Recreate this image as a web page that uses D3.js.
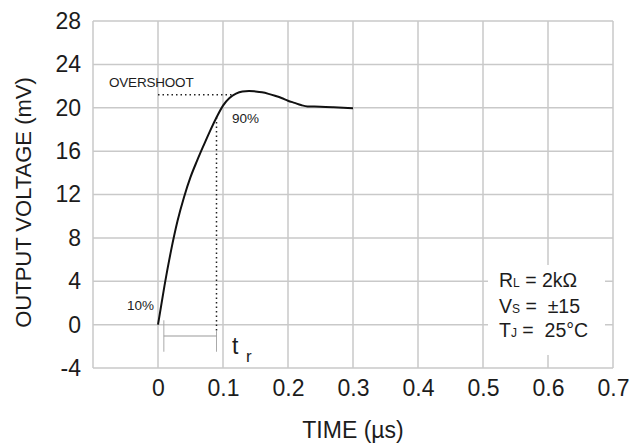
<!DOCTYPE html>
<html>
<head>
<meta charset="utf-8">
<script src="https://cdn.jsdelivr.net/npm/d3@7/dist/d3.min.js"></script>
<style>
  html, body { margin: 0; padding: 0; background: #fff; }
  svg { display: block; font-family: "Liberation Sans", Arial, sans-serif; }
</style>
</head>
<body>
<svg id="chart" width="632" height="448"></svg>
<script>
// Step response of the output stage: time in µs, output in mV
const timeUs = [0, 0.01, 0.02, 0.03, 0.04, 0.05, 0.06, 0.07, 0.08, 0.09, 0.10, 0.11, 0.12, 0.13, 0.14, 0.15, 0.16, 0.17, 0.18, 0.19, 0.20, 0.21, 0.22, 0.23, 0.25, 0.27, 0.30];
const outputMv = [0, 3.6, 6.8, 9.55, 11.75, 13.6, 15.1, 16.5, 17.85, 19.1, 20.2, 20.9, 21.3, 21.5, 21.55, 21.5, 21.42, 21.28, 21.1, 20.9, 20.65, 20.45, 20.25, 20.12, 20.1, 20.05, 19.95];

const xTicks = [0, 0.1, 0.2, 0.3, 0.4, 0.5, 0.6, 0.7];
const xTickLabels = ["0", "0.1", "0.2", "0.3", "0.4", "0.5", "0.6", "0.7"];
const xGrid = [-0.1, 0, 0.1, 0.2, 0.3, 0.4, 0.5, 0.6, 0.7];
const yTicks = [-4, 0, 4, 8, 12, 16, 20, 24, 28];
const yTickLabels = ["-4", "0", "4", "8", "12", "16", "20", "24", "28"];

// Rise-time annotation values
const overshootLevel = [21.2];
const riseStart = [0.009];
const riseEnd = [0.09];

const svg = d3.select("#chart");
const plotLeft = 93, plotRight = 613, plotTop = 21, plotBottom = 368;

const x = d3.scaleLinear().domain([-0.1, 0.7]).range([plotLeft, plotRight]);
const y = d3.scaleLinear().domain([-4, 28]).range([plotBottom, plotTop]);

const gridColor = "#c9c9c9";
const textColor = "#1c1c1c";

// grid
const grid = svg.append("g");
grid.selectAll("line.v").data(xGrid).join("line").attr("class", "v")
  .attr("x1", d => x(d)).attr("x2", d => x(d))
  .attr("y1", plotTop).attr("y2", plotBottom)
  .attr("stroke", gridColor).attr("stroke-width", 1.5);
grid.selectAll("line.h").data(yTicks).join("line").attr("class", "h")
  .attr("x1", plotLeft).attr("x2", plotRight)
  .attr("y1", d => y(d)).attr("y2", d => y(d))
  .attr("stroke", gridColor).attr("stroke-width", 1.5);

// y axis labels
const yAxis = d3.axisLeft(y).tickValues(yTicks)
  .tickFormat((d, i) => yTickLabels[i]).tickSize(0).tickPadding(12);
const gy = svg.append("g").attr("transform", `translate(${plotLeft},0)`).call(yAxis);
gy.select(".domain").remove();
gy.selectAll("text").attr("font-size", 23).attr("fill", textColor)
  .attr("font-family", "'Liberation Sans', Arial, sans-serif");

// x axis labels
const xAxis = d3.axisBottom(x).tickValues(xTicks)
  .tickFormat((d, i) => xTickLabels[i]).tickSize(0).tickPadding(12);
const gx = svg.append("g").attr("transform", `translate(0,${plotBottom})`).call(xAxis);
gx.select(".domain").remove();
gx.selectAll("text").attr("font-size", 23).attr("fill", textColor)
  .attr("font-family", "'Liberation Sans', Arial, sans-serif");

// axis titles
svg.append("text")
  .attr("x", x(0.3)).attr("y", 438)
  .attr("text-anchor", "middle").attr("font-size", 23).attr("fill", textColor)
  .text("TIME (µs)");
svg.append("text")
  .attr("transform", `translate(31,${(plotTop + plotBottom) / 2 + 8}) rotate(-90)`)
  .attr("text-anchor", "middle").attr("font-size", 22).attr("fill", textColor)
  .text("OUTPUT VOLTAGE (mV)");

// condition box
const box = svg.append("g");
box.append("rect").attr("x", 488).attr("y", 265).attr("width", 117).attr("height", 90).attr("fill", "#fff");
const cond = [
  { main: "R", sub: "L", rest: " = 2kΩ", yb: 287 },
  { main: "V", sub: "S", rest: " =  ±15", yb: 313 },
  { main: "T", sub: "J", rest: " =  25°C", yb: 337 }
];
cond.forEach(c => {
  const t = box.append("text").attr("x", 499).attr("y", c.yb)
    .attr("font-size", 19.5).attr("fill", textColor).attr("xml:space", "preserve")
    .style("white-space", "pre");
  t.append("tspan").text(c.main);
  t.append("tspan").attr("font-size", 12).text(c.sub);
  t.append("tspan").text(c.rest);
});

// rise-time markers
const ann = svg.append("g");
const riseEndV = outputMv[timeUs.indexOf(riseEnd[0])];
ann.append("line")
  .attr("x1", x(0)).attr("x2", x(0.117))
  .attr("y1", y(overshootLevel[0])).attr("y2", y(overshootLevel[0]))
  .attr("stroke", "#222").attr("stroke-width", 1.5).attr("stroke-dasharray", "1.5,3");
ann.append("line")
  .attr("x1", x(riseEnd[0])).attr("x2", x(riseEnd[0]))
  .attr("y1", y(riseEndV)).attr("y2", y(-0.6))
  .attr("stroke", "#222").attr("stroke-width", 1.5).attr("stroke-dasharray", "1.5,3");
// bracket
ann.append("line").attr("x1", x(riseStart[0])).attr("x2", x(riseStart[0]))
  .attr("y1", y(0.4)).attr("y2", y(-2.5)).attr("stroke", "#aaa").attr("stroke-width", 1);
ann.append("line").attr("x1", x(riseEnd[0])).attr("x2", x(riseEnd[0]))
  .attr("y1", y(-0.6)).attr("y2", y(-2.5)).attr("stroke", "#aaa").attr("stroke-width", 1);
ann.append("line").attr("x1", x(riseStart[0])).attr("x2", x(riseEnd[0]))
  .attr("y1", y(-1.05)).attr("y2", y(-1.05)).attr("stroke", "#999").attr("stroke-width", 1.2);

ann.append("text").attr("x", 109).attr("y", 87).attr("font-size", 13.5)
  .attr("letter-spacing", -0.2).attr("fill", textColor).text("OVERSHOOT");
ann.append("text").attr("x", 232).attr("y", 123).attr("font-size", 13.5)
  .attr("fill", textColor).text("90%");
ann.append("text").attr("x", 127).attr("y", 310).attr("font-size", 13.5)
  .attr("fill", textColor).text("10%");
ann.append("text").attr("x", 232).attr("y", 354).attr("font-size", 23)
  .attr("fill", textColor).text("t");
ann.append("text").attr("x", 246).attr("y", 362).attr("font-size", 17)
  .attr("fill", textColor).text("r");

// response curve
const pts = timeUs.map((t, i) => [t, outputMv[i]]);
const line = d3.line().x(d => x(d[0])).y(d => y(d[1])).curve(d3.curveMonotoneX);
svg.append("path").datum(pts).attr("d", line)
  .attr("fill", "none").attr("stroke", "#111").attr("stroke-width", 2);
</script>
</body>
</html>
